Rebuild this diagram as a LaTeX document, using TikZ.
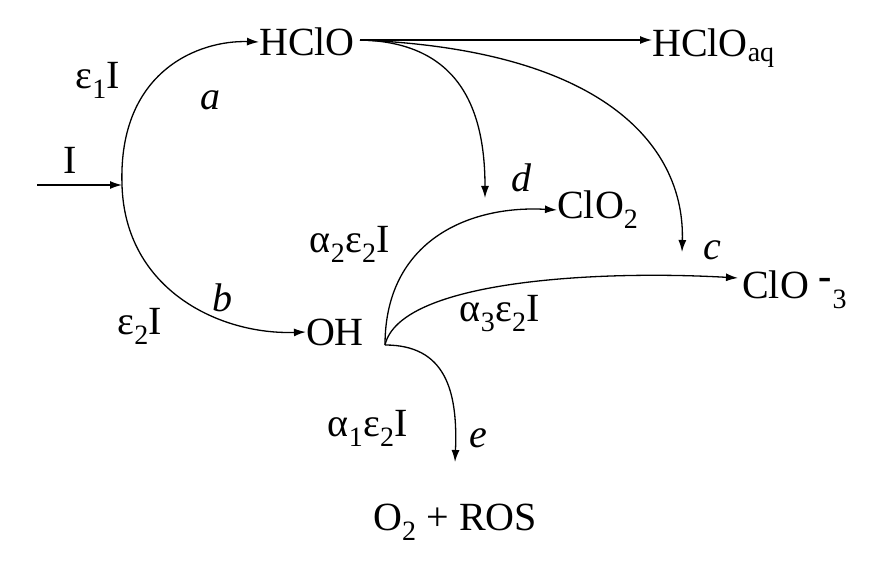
\documentclass[tikz,border=0pt]{standalone}
\usepackage{fontspec}
\setmainfont{Liberation Serif}
\begin{document}
\begin{tikzpicture}[x=1pt,y=-1pt,font=\fontsize{40}{44}\selectfont,
  lab/.style={inner sep=0pt},
  arr/.style={-{Latex[length=12pt,width=8pt]},line width=1.3pt}]
\useasboundingbox (0,0) rectangle (881,561);
\usetikzlibrary{arrows.meta}
\node[lab] (I) at (70,160) {I};
\coordinate (s0) at (37,185);
\coordinate (sp) at (122,185);
\node[lab] (hclo) at (307,42) {HClO};
\node[lab,anchor=west] (aq) at (652,48) {HClO\textsubscript{aq}};
\node[lab] (oh) at (335,332) {OH};
\node[lab,anchor=west] (clo2) at (557,210) {ClO\textsubscript{2}};
\node[lab,anchor=west] (clo3) at (742,290) {ClO $^{\textbf{-}}$\textsubscript{3}};
\node[lab] (ros) at (455,522) {O\textsubscript{2} + ROS};
\coordinate (hr) at (360,40);
\coordinate (ohr) at (385,345);
\draw[arr] (s0) -- (sp);
\draw[arr] (sp) .. controls (118,70) and (200,40) .. (hclo.west);
\draw[arr] (sp) .. controls (125,290) and (220,335) .. (oh.west);
\draw[arr] (hr) -- (aq.west |- hr);
\draw[arr] (hr) .. controls (460,42) and (485,110) .. (485,198);
\draw[arr] (hr) .. controls (610,50) and (685,150) .. (682,252);
\draw[arr] (ohr) .. controls (385,240) and (470,205) .. (clo2.west);
\draw[arr] (ohr) .. controls (400,280) and (600,270) .. (738,278);
\draw[arr] (ohr) .. controls (445,345) and (458,390) .. (455,462);
\node[lab] at (98,80) {ε\textsubscript{1}I};
\node[lab] at (210,100) {\textit{a}};
\node[lab] at (140,326) {ε\textsubscript{2}I};
\node[lab] at (222,298) {\textit{b}};
\node[lab] at (350,244) {α\textsubscript{2}ε\textsubscript{2}I};
\node[lab] at (522,178) {\textit{d}};
\node[lab] at (712,250) {\textit{c}};
\node[lab] at (500,314) {α\textsubscript{3}ε\textsubscript{2}I};
\node[lab] at (368,428) {α\textsubscript{1}ε\textsubscript{2}I};
\node[lab] at (478,438) {\textit{e}};
\end{tikzpicture}
\end{document}
